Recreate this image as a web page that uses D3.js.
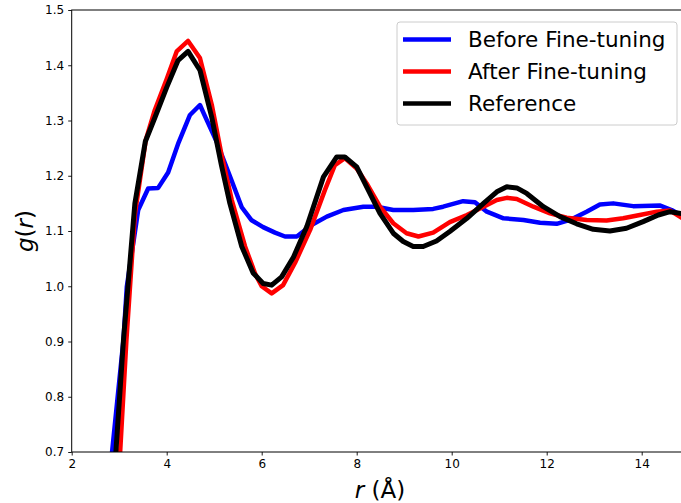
<!DOCTYPE html>
<html>
<head>
<meta charset="utf-8">
<script src="https://cdn.jsdelivr.net/npm/d3@7"></script>
<style>
  html, body { margin: 0; padding: 0; background: #fff; }
  svg { display: block; }
  text { font-family: "DejaVu Sans", sans-serif; fill: #000; }
</style>
</head>
<body>
<svg id="chart" width="681" height="503"></svg>
<script>
// Radial distribution function g(r) for three models
const seriesNames = ["Before Fine-tuning", "After Fine-tuning", "Reference"];
const seriesColors = ["#0000ff", "#ff0000", "#000000"];

const rBefore = [2.75, 2.85, 3.09, 3.16, 3.40, 3.61, 3.82, 4.03, 4.25, 4.49, 4.70, 4.81, 5.05, 5.35, 5.58, 5.78, 6.03, 6.28, 6.49, 6.74, 7.05, 7.37, 7.72, 8.14, 8.42, 8.77, 9.19, 9.61, 9.82, 10.24, 10.49, 10.74, 11.09, 11.51, 11.86, 12.21, 12.49, 12.84, 13.12, 13.40, 13.82, 14.39, 14.63, 14.95];
const gBefore = [0.58, 0.70, 0.903, 0.999, 1.138, 1.177, 1.178, 1.206, 1.26, 1.310, 1.328, 1.307, 1.262, 1.195, 1.143, 1.120, 1.107, 1.097, 1.090, 1.090, 1.111, 1.126, 1.138, 1.144, 1.144, 1.138, 1.138, 1.140, 1.144, 1.154, 1.152, 1.135, 1.123, 1.120, 1.115, 1.113, 1.120, 1.135, 1.148, 1.150, 1.145, 1.146, 1.138, 1.122];

const rAfter = [2.93, 3.02, 3.15, 3.33, 3.56, 3.75, 4.00, 4.21, 4.45, 4.70, 4.95, 5.15, 5.37, 5.65, 5.86, 6.00, 6.21, 6.45, 6.70, 7.02, 7.33, 7.54, 7.75, 8.00, 8.21, 8.49, 8.77, 9.05, 9.30, 9.61, 9.96, 10.32, 10.67, 10.95, 11.16, 11.37, 11.72, 12.07, 12.42, 12.84, 13.26, 13.61, 13.96, 14.32, 14.60, 14.95];
const gAfter = [0.58, 0.70, 0.90, 1.13, 1.265, 1.319, 1.375, 1.425, 1.444, 1.413, 1.328, 1.240, 1.156, 1.072, 1.023, 1.000, 0.987, 1.002, 1.042, 1.102, 1.174, 1.219, 1.232, 1.213, 1.186, 1.144, 1.114, 1.096, 1.090, 1.097, 1.116, 1.129, 1.144, 1.156, 1.160, 1.158, 1.144, 1.132, 1.124, 1.120, 1.119, 1.123, 1.129, 1.135, 1.137, 1.118];

const rRef = [2.84, 2.93, 3.09, 3.33, 3.55, 3.75, 4.00, 4.24, 4.45, 4.70, 4.95, 5.15, 5.33, 5.58, 5.82, 6.03, 6.21, 6.42, 6.67, 6.95, 7.30, 7.58, 7.75, 8.00, 8.21, 8.49, 8.77, 8.98, 9.19, 9.40, 9.68, 9.96, 10.32, 10.67, 10.95, 11.16, 11.37, 11.58, 11.93, 12.28, 12.63, 12.98, 13.33, 13.68, 14.03, 14.35, 14.60, 14.95];
const gRef = [0.58, 0.70, 0.903, 1.150, 1.262, 1.305, 1.360, 1.409, 1.425, 1.391, 1.305, 1.220, 1.150, 1.072, 1.024, 1.005, 1.002, 1.017, 1.053, 1.108, 1.198, 1.234, 1.234, 1.216, 1.180, 1.132, 1.096, 1.081, 1.072, 1.072, 1.082, 1.099, 1.123, 1.150, 1.171, 1.180, 1.178, 1.168, 1.144, 1.126, 1.113, 1.103, 1.100, 1.105, 1.117, 1.129, 1.135, 1.130];

const xTicks = [2, 4, 6, 8, 10, 12, 14];
const yTicks = [0.7, 0.8, 0.9, 1.0, 1.1, 1.2, 1.3, 1.4, 1.5];

const svg = d3.select("#chart");
const plotLeft = 71.7, plotTop = 10, plotBottom = 452;
const x = d3.scaleLinear().domain([2, 15]).range([plotLeft, plotLeft + 13 * 47.5]);
const y = d3.scaleLinear().domain([0.7, 1.5]).range([plotBottom, plotTop]);

svg.append("defs").append("clipPath").attr("id", "plot-clip")
  .append("rect").attr("x", plotLeft).attr("y", plotTop)
  .attr("width", x(15) - plotLeft).attr("height", plotBottom - plotTop);

const series = [
  { r: rBefore, g: gBefore },
  { r: rAfter, g: gAfter },
  { r: rRef, g: gRef }
];

const line = d3.line().x(d => x(d[0])).y(d => y(d[1]));
const plot = svg.append("g").attr("clip-path", "url(#plot-clip)");
series.forEach((s, i) => {
  plot.append("path")
    .datum(s.r.map((rv, k) => [rv, s.g[k]]))
    .attr("d", line)
    .attr("fill", "none")
    .attr("stroke", seriesColors[i])
    .attr("stroke-width", i === 2 ? 5 : 4.5)
    .attr("stroke-linejoin", "round");
});

// Axes
const xAxis = d3.axisBottom(x).tickValues(xTicks).tickSize(3.5).tickPadding(4)
  .tickFormat(d3.format("d"));
const yAxis = d3.axisLeft(y).tickValues(yTicks).tickSize(3.5).tickPadding(4)
  .tickFormat(d3.format(".1f"));

const gx = svg.append("g").attr("transform", `translate(0,${plotBottom})`).call(xAxis);
const gy = svg.append("g").attr("transform", `translate(${plotLeft},0)`).call(yAxis);
[gx, gy].forEach(g => {
  g.select(".domain").remove();
  g.selectAll(".tick line").attr("stroke", "#000").attr("stroke-width", 0.9);
  g.selectAll(".tick text").style("font-family", "DejaVu Sans").style("font-size", "12px").attr("fill", "#000");
});

// Spines
svg.append("rect").attr("x", plotLeft).attr("y", plotTop)
  .attr("width", x(15) - plotLeft).attr("height", plotBottom - plotTop)
  .attr("fill", "none").attr("stroke", "#000").attr("stroke-width", 1);

// Axis titles
const xl = svg.append("text").attr("x", 380).attr("y", 498)
  .attr("text-anchor", "middle").style("font-size", "23px");
xl.append("tspan").style("font-style", "italic").text("r");
xl.append("tspan").text(" (Å)");

const yl = svg.append("text").attr("transform", "translate(33,231) rotate(-90)")
  .attr("text-anchor", "middle").style("font-size", "23px");
yl.append("tspan").style("font-style", "italic").text("g");
yl.append("tspan").text("(");
yl.append("tspan").style("font-style", "italic").text("r");
yl.append("tspan").text(")");

// Legend
const lg = svg.append("g");
lg.append("rect").attr("x", 397).attr("y", 22).attr("width", 280).attr("height", 103)
  .attr("rx", 3).attr("fill", "#fff").attr("fill-opacity", 0.8)
  .attr("stroke", "#cccccc").attr("stroke-width", 1);
seriesNames.forEach((name, i) => {
  const cy = 39.5 + i * 32;
  lg.append("line").attr("x1", 403).attr("x2", 451).attr("y1", cy).attr("y2", cy)
    .attr("stroke", seriesColors[i]).attr("stroke-width", 4.5);
  lg.append("text").attr("x", 468).attr("y", cy).attr("dy", "0.36em")
    .style("font-size", "21.5px").text(name);
});
</script>
</body>
</html>
